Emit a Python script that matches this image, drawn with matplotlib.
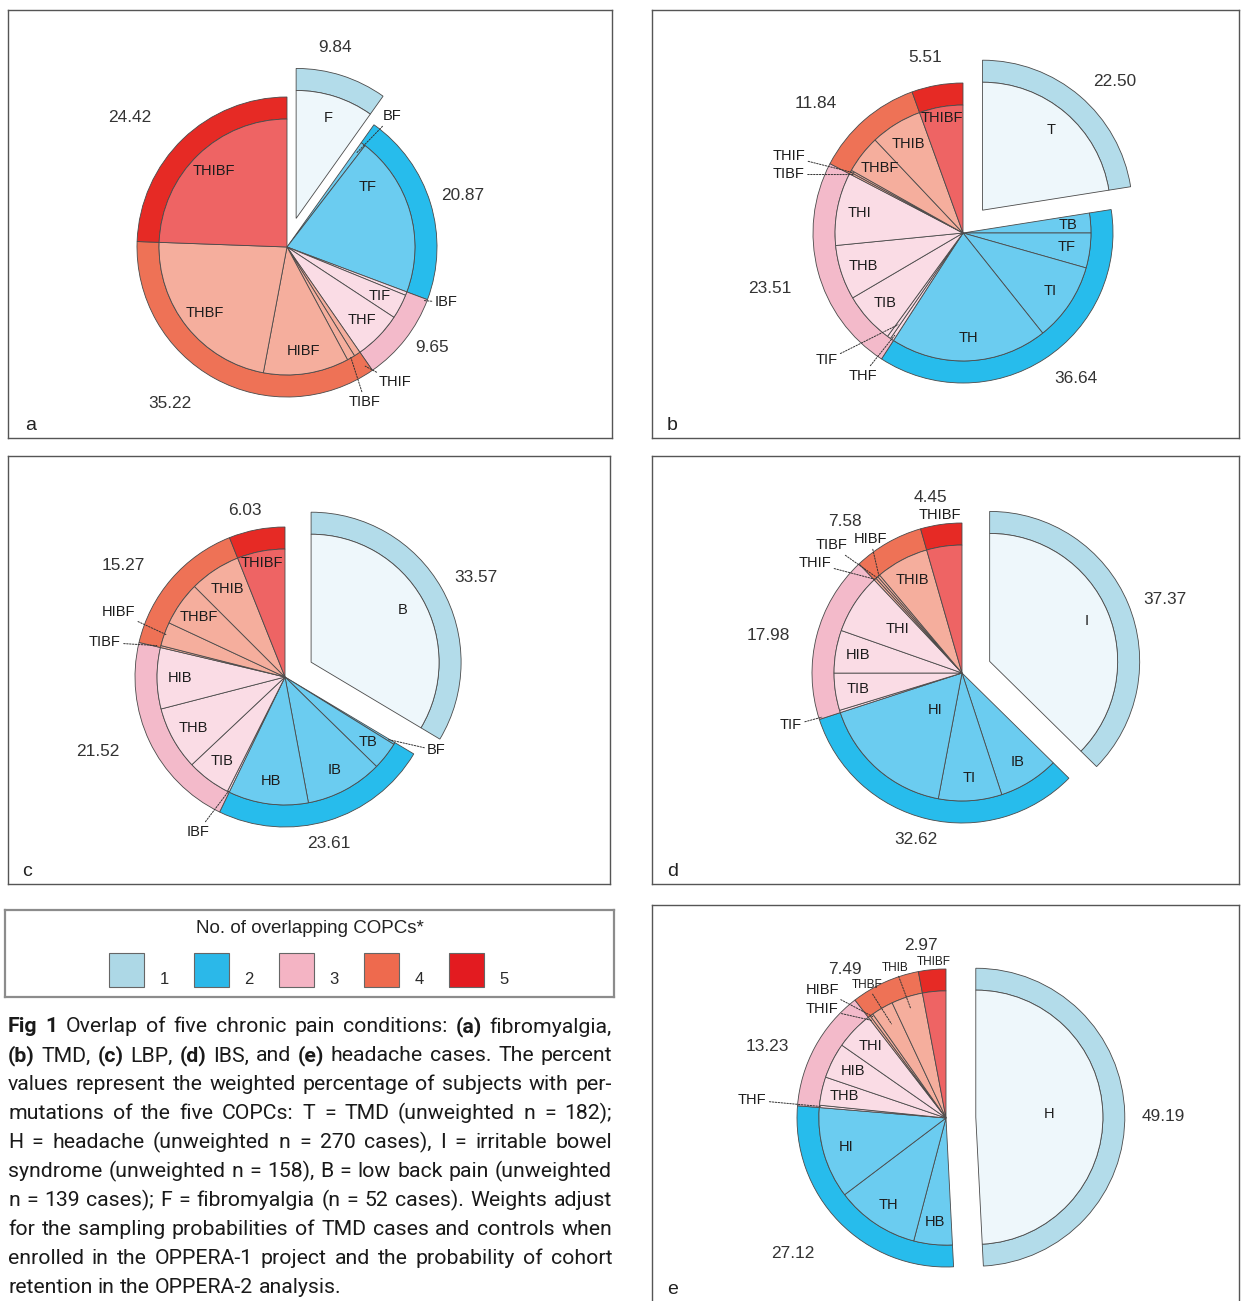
import matplotlib
matplotlib.use("Agg")
import matplotlib.pyplot as plt
from matplotlib import font_manager
from matplotlib.patches import Rectangle
import numpy as np

# colours per number of overlapping conditions (1..5)
ring_colors = ["#B3DCEA", "#27BCEC", "#F3BACA", "#EE7256", "#E62A25"]
wedge_colors = ["#EEF7FB", "#6BCCF0", "#FADCE5", "#F5AE9D", "#EE6464"]
legend_colors = ["#ADD8E6", "#2BB8E9", "#F4B4C4", "#EE6A4E", "#E31B20"]
legend_labels = ["1", "2", "3", "4", "5"]

# (a) fibromyalgia cases
a_groups = [9.84, 20.87, 9.65, 35.22, 24.42]
a_names = ["F", "BF", "TF", "IBF", "TIF", "THF", "THIF", "TIBF", "HIBF", "THBF", "THIBF"]
a_values = [9.84, 0.60, 20.27, 0.45, 3.10, 6.10, 0.80, 1.00, 10.80, 22.62, 24.42]

# (b) TMD cases
b_groups = [22.50, 36.64, 23.51, 11.84, 5.51]
b_names = ["T", "TB", "TF", "TI", "TH", "THF", "TIF", "TIB", "THB", "THI",
           "TIBF", "THIF", "THBF", "THIB", "THIBF"]
b_values = [22.50, 2.50, 4.40, 9.90, 19.84, 0.45, 0.45, 6.50, 6.90, 9.21,
            0.25, 0.25, 4.80, 6.54, 5.51]

# (c) LBP cases
c_groups = [33.57, 23.61, 21.52, 15.27, 6.03]
c_names = ["B", "BF", "TB", "IB", "HB", "IBF", "TIB", "THB", "HIB",
           "TIBF", "HIBF", "THBF", "THIB", "THIBF"]
c_values = [33.57, 0.25, 3.50, 9.75, 10.11, 0.25, 5.55, 8.00, 7.72,
            0.25, 3.00, 5.55, 6.47, 6.03]

# (d) IBS cases
d_groups = [37.37, 32.62, 17.98, 7.58, 4.45]
d_names = ["I", "IB", "TI", "HI", "TIF", "TIB", "HIB", "THI",
           "THIF", "TIBF", "HIBF", "THIB", "THIBF"]
d_values = [37.37, 7.60, 8.00, 17.02, 0.30, 4.70, 5.40, 7.58,
            0.30, 0.30, 0.30, 6.68, 4.45]

# (e) headache cases
e_groups = [49.19, 27.12, 13.23, 7.49, 2.97]
e_names = ["H", "HB", "TH", "HI", "THF", "THB", "HIB", "THI",
           "THIF", "HIBF", "THBF", "THIB", "THIBF"]
e_values = [49.19, 4.90, 10.60, 11.62, 0.30, 3.60, 4.50, 4.83,
            0.30, 0.40, 2.80, 3.99, 2.97]

caption_lines = [
    "*Fig *1 Overlap of five chronic pain conditions: *(a) fibromyalgia,",
    "*(b) TMD, *(c) LBP, *(d) IBS, and *(e) headache cases. The percent",
    "values represent the weighted percentage of subjects with per-",
    "mutations of the five COPCs: T = TMD (unweighted n = 182);",
    "H = headache (unweighted n = 270 cases), I = irritable bowel",
    "syndrome (unweighted n = 158), B = low back pain (unweighted",
    "n = 139 cases); F = fibromyalgia (n = 52 cases). Weights adjust",
    "for the sampling probabilities of TMD cases and controls when",
    "enrolled in the OPPERA-1 project and the probability of cohort",
    "retention in the OPPERA-2 analysis.",
]

W, H = 1244, 1301
INNER = 0.853
EXPLODE = 0.2
EDGE = "#4a4a4a"
LW = 0.6
TXT = "#1c1c1c"

plt.rcParams["font.family"] = ["Liberation Sans", "DejaVu Sans"]

fig = plt.figure(figsize=(W / 100, H / 100), dpi=100)


def px_axes(x0, y0, x1, y1):
    return fig.add_axes([x0 / W, 1 - y1 / H, (x1 - x0) / W, (y1 - y0) / H])


# layout of each panel: box and pie centre in pixels, label placement in radius units
panels = [
    dict(letter="a", names=a_names, values=a_values, groups=a_groups,
         box=(8, 10, 612, 438), center=(287, 247), R=150,
         group_pos=[(0.32, 1.33), (1.17, 0.34), (0.97, -0.67), (-0.78, -1.04), (-1.05, 0.86)],
         leaders={"BF": (0.70, 0.87, 0.78), "IBF": (1.06, -0.37, 0.98),
                  "THIF": (0.72, -0.90, 0.95), "TIBF": (0.52, -1.03, 0.85)},
         plain={}, moved={"TF": (0.535, 0.40)}, small=[]),
    dict(letter="b", names=b_names, values=b_values, groups=b_groups,
         box=(652, 10, 1239, 438), center=(963, 233), R=150,
         group_pos=[(1.01, 1.01), (0.75, -0.97), (-1.29, -0.37), (-0.98, 0.86), (-0.25, 1.17)],
         leaders={"THIF": (-1.16, 0.51, 0.83), "TIBF": (-1.16, 0.39, 0.83),
                  "TIF": (-0.91, -0.85, 0.75), "THF": (-0.67, -0.95, 0.82)},
         plain={}, moved={"THIBF": (-0.14, 0.77)}, small=[]),
    dict(letter="c", names=c_names, values=c_values, groups=c_groups,
         box=(8, 456, 610, 884), center=(285, 677), R=150,
         group_pos=[(1.27, 0.66), (0.29, -1.11), (-1.25, -0.50), (-1.08, 0.74), (-0.27, 1.11)],
         leaders={"HIBF": (-1.11, 0.43, 0.84), "TIBF": (-1.20, 0.23, 0.88),
                  "BF": (1.01, -0.49, 0.80), "IBF": (-0.58, -1.03, 0.85)},
         plain={}, moved={"THIBF": (-0.155, 0.757)}, small=[]),
    dict(letter="d", names=d_names, values=d_values, groups=d_groups,
         box=(652, 456, 1239, 884), center=(962, 673), R=150,
         group_pos=[(1.35, 0.49), (-0.31, -1.11), (-1.29, 0.25), (-0.78, 1.01), (-0.21, 1.17)],
         leaders={"TIBF": (-0.87, 0.85, 0.85), "HIBF": (-0.61, 0.89, 0.85),
                  "THIF": (-0.98, 0.73, 0.85), "TIF": (-1.14, -0.35, 0.98)},
         plain={"THIBF": (-0.15, 1.05)},
         moved={"HI": (-0.18, -0.25), "THI": (-0.43, 0.29)}, small=[]),
    dict(letter="e", names=e_names, values=e_values, groups=e_groups,
         box=(652, 905, 1239, 1330), center=(946, 1118), R=149,
         group_pos=[(1.46, 0.01), (-1.03, -0.91), (-1.20, 0.48), (-0.68, 1.00), (-0.17, 1.16)],
         leaders={"THIB": (-0.34, 1.01, 0.77), "THBF": (-0.53, 0.89, 0.73),
                  "HIBF": (-0.83, 0.86, 0.84), "THIF": (-0.83, 0.73, 0.82),
                  "THF": (-1.30, 0.12, 0.84)},
         plain={"THIBF": (-0.08, 1.05)},
         moved={"H": (0.69, 0.03)}, small=["THIB", "THBF", "THIBF"]),
]

for p in panels:
    x0, y0, x1, y1 = p["box"]
    cx, cy = p["center"]
    R = p["R"]
    ax = px_axes(x0, y0, x1, y1)
    names, values, groups = p["names"], p["values"], p["groups"]
    level = [len(n) for n in names]

    ax.pie(groups, radius=1.0, startangle=90, counterclock=False,
           colors=ring_colors, explode=[EXPLODE, 0, 0, 0, 0],
           wedgeprops=dict(width=1 - INNER, edgecolor=EDGE, linewidth=LW))
    wedges, _ = ax.pie(values, radius=INNER, startangle=90, counterclock=False,
                       colors=[wedge_colors[k - 1] for k in level],
                       explode=[EXPLODE if k == 1 else 0 for k in level],
                       wedgeprops=dict(edgecolor=EDGE, linewidth=LW))

    for name, w in zip(names, wedges):
        mid = np.deg2rad(0.5 * (w.theta1 + w.theta2))
        wx, wy = w.center
        fs = 8.5 if name in p["small"] else 10.5
        if name in p["leaders"]:
            tx, ty, r_end = p["leaders"][name]
            ax.annotate(name, xy=(wx + r_end * np.cos(mid), wy + r_end * np.sin(mid)),
                        xytext=(tx, ty), ha="center", va="center", fontsize=fs,
                        color=TXT,
                        arrowprops=dict(arrowstyle="-", linestyle=(0, (1.6, 1.4)),
                                        color="#333333", lw=0.7, shrinkA=0, shrinkB=0))
        elif name in p["plain"]:
            tx, ty = p["plain"][name]
            ax.text(tx, ty, name, ha="center", va="center", fontsize=fs, color=TXT)
        elif name in p["moved"]:
            tx, ty = p["moved"][name]
            ax.text(tx, ty, name, ha="center", va="center", fontsize=fs, color=TXT)
        else:
            r_lab = 0.70
            ax.text(wx + r_lab * np.cos(mid), wy + r_lab * np.sin(mid), name,
                    ha="center", va="center", fontsize=fs, color=TXT)

    for g, (gx, gy) in zip(groups, p["group_pos"]):
        ax.text(gx, gy, f"{g:.2f}", ha="center", va="center", fontsize=12.4, color="#333333")

    ax.set_aspect("auto")
    ax.set_xlim((x0 - cx) / R, (x1 - cx) / R)
    ax.set_ylim((cy - y1) / R, (cy - y0) / R)
    ax.set_frame_on(True)
    ax.set_xticks([])
    ax.set_yticks([])
    for s in ax.spines.values():
        s.set_color("#555555")
        s.set_linewidth(1.0)
    lx = 25 if p["letter"] == "a" else (22 if p["letter"] == "c" else 667)
    ly = {"a": 425, "b": 425, "c": 871, "d": 871, "e": 1289}[p["letter"]]
    ax.text((lx - x0) / (x1 - x0), (y1 - ly) / (y1 - y0), p["letter"],
            transform=ax.transAxes, ha="left", va="center", fontsize=14, color="#222222")

# legend box
lg = px_axes(5, 910, 614, 997)
lg.set_xlim(5, 614)
lg.set_ylim(997, 910)
lg.set_xticks([])
lg.set_yticks([])
for s in lg.spines.values():
    s.set_color("#8c8c8c")
    s.set_linewidth(1.6)
lg.text(310, 929, "No. of overlapping COPCs*", ha="center", va="center",
        fontsize=13.5, color="#222222")
for i, (col, lab) in enumerate(zip(legend_colors, legend_labels)):
    sx = 109 + 85 * i
    lg.add_patch(Rectangle((sx, 953), 35, 34, facecolor=col, edgecolor="#666666", linewidth=0.8))
    lg.text(sx + 55, 980, lab, ha="center", va="center", fontsize=12, color="#2a2a2a")


def font_available(name):
    try:
        font_manager.findfont(font_manager.FontProperties(family=name),
                              fallback_to_default=False)
        return True
    except ValueError:
        return False


cap_family = "Roboto" if font_available("Roboto") else "Liberation Sans"

# justified caption, one text object per word; size chosen so the widest line fits
renderer = fig.canvas.get_renderer()
cx0, cx1 = 8, 612
base = 14.0
rows = []
for i, line in enumerate(caption_lines):
    ypix = 1027 + i * 28.9
    objs = []
    for wd in line.split(" "):
        bold = wd.startswith("*")
        t = fig.text(0, 1 - ypix / H, wd.lstrip("*"), ha="left", va="center",
                     fontsize=base, family=cap_family,
                     fontweight="bold" if bold else "normal", color="#1a1a1a")
        objs.append(t)
    rows.append(objs)

space = 0.25 * base * 100 / 72
natural = [sum(t.get_window_extent(renderer).width for t in objs) + space * (len(objs) - 1)
           for objs in rows[:-1]]
cap_size = min(16.5, base * (cx1 - cx0) / max(natural) * 0.995)

for i, objs in enumerate(rows):
    for t in objs:
        t.set_fontsize(cap_size)
    widths = [t.get_window_extent(renderer).width for t in objs]
    if i < len(rows) - 1:
        gap = (cx1 - cx0 - sum(widths)) / (len(objs) - 1)
    else:
        gap = 0.25 * cap_size * 100 / 72
    xpos = cx0
    for t, wdt in zip(objs, widths):
        t.set_x(xpos / W)
        xpos += wdt + gap

fig.savefig("out.png", dpi=100)
